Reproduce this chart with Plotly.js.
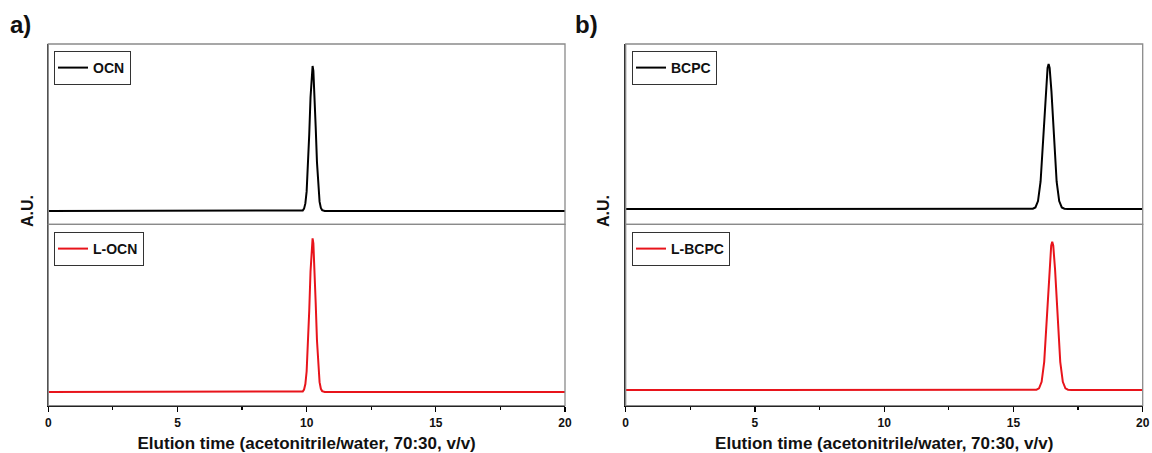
<!DOCTYPE html>
<html>
<head>
<meta charset="utf-8">
<script src="https://cdn.plot.ly/plotly-3.0.1.min.js"></script>
<style>html,body{margin:0;padding:0;background:#fff;}#chart{width:1152px;height:453px;}</style>
</head>
<body>
<div id="chart"></div>
<script>
// ---- Data ----
const ocnTime   = [0, 9.75, 9.85, 9.9, 9.95, 10.0, 10.05, 10.1, 10.15, 10.2, 10.23, 10.26, 10.3, 10.35, 10.4, 10.45, 10.5, 10.55, 10.6, 10.7, 20];
const ocnSignal = [0, 0, 0.4, 1.6, 5.2, 13.5, 29.4, 52.8, 78.5, 96.7, 100, 96.7, 83.1, 58.0, 33.5, 16.0, 6.4, 2.1, 0.6, 0, 0];

const locnTime   = [0, 9.75, 9.85, 9.9, 9.95, 10.0, 10.05, 10.1, 10.15, 10.2, 10.23, 10.26, 10.3, 10.35, 10.4, 10.45, 10.5, 10.55, 10.6, 10.7, 20];
const locnSignal = [0, 0, 0.4, 1.6, 5.2, 13.5, 29.4, 52.8, 78.5, 96.7, 100, 96.7, 83.1, 58.0, 33.5, 16.0, 6.4, 2.1, 0.6, 0, 0];

const bcpcTime   = [0, 15.6, 15.75, 15.85, 15.95, 16.05, 16.15, 16.25, 16.32, 16.36, 16.4, 16.47, 16.57, 16.67, 16.77, 16.87, 16.97, 17.1, 20];
const bcpcSignal = [0, 0, 0.2, 1.1, 5.5, 19.0, 46.6, 81.1, 97.3, 100, 97.3, 81.1, 46.6, 19.0, 5.5, 1.1, 0.2, 0, 0];

const lbcpcTime   = [0, 15.74, 15.89, 15.99, 16.09, 16.19, 16.29, 16.39, 16.46, 16.5, 16.54, 16.61, 16.71, 16.81, 16.91, 17.01, 17.11, 17.24, 20];
const lbcpcSignal = [0, 0, 0.2, 1.1, 5.5, 19.0, 46.6, 81.1, 97.3, 100, 97.3, 81.1, 46.6, 19.0, 5.5, 1.1, 0.2, 0, 0];

const seriesNames = ["OCN", "L-OCN", "BCPC", "L-BCPC"];
const xTitle = "Elution time (acetonitrile/water, 70:30, v/v)";
const yTitle = "A.U.";
const panelLabels = ["a)", "b)"];

// ---- Styling ----
const FONT = "Arial, 'Liberation Sans', sans-serif";
const BLACK = "#000000";
const RED = "#e8141b";

function trace(x, y, name, color, xa, ya, lg) {
  return {x: x, y: y, name: name, type: "scatter", mode: "lines",
          line: {color: color, width: 2}, xaxis: xa, yaxis: ya, legend: lg, showlegend: true,
          hoverinfo: "x+y"};
}

const data = [
  trace(ocnTime, ocnSignal, seriesNames[0], BLACK, "x3", "y3", "legend"),
  trace(locnTime, locnSignal, seriesNames[1], RED, "x", "y", "legend2"),
  trace(bcpcTime, bcpcSignal, seriesNames[2], BLACK, "x4", "y4", "legend3"),
  trace(lbcpcTime, lbcpcSignal, seriesNames[3], RED, "x2", "y2", "legend4")
];

const W = 1152, H = 453;
const domA = [48.3 / W, 565 / W];
const domB = [625.7 / W, 1142.7 / W];
const domBottom = [(H - 405.7) / H, (H - 224.3) / H];
const domTop = [(H - 224.3) / H, (H - 44) / H];

function bottomX(dom, anchor) {
  return {
    domain: dom, anchor: anchor, range: [0, 20], autorange: false,
    tickmode: "linear", tick0: 0, dtick: 5,
    ticks: "outside", ticklen: 5, tickwidth: 1.3, tickcolor: BLACK,
    minor: {tickmode: "linear", tick0: 0, dtick: 2.5, ticks: "outside", ticklen: 3, tickwidth: 1.2, tickcolor: BLACK, showgrid: false},
    showline: true, linecolor: BLACK, linewidth: 1.5,
    showgrid: false, zeroline: false,
    tickfont: {family: FONT, size: 12, color: "#111", weight: "bold"},
    title: {text: xTitle, standoff: 10, font: {family: FONT, size: 17, color: "#111", weight: "bold"}},
    fixedrange: true
  };
}
function topX(dom, anchor, match) {
  return {
    domain: dom, anchor: anchor, matches: match, range: [0, 20],
    showticklabels: false, ticks: "", showline: false, showgrid: false, zeroline: false, fixedrange: true
  };
}
function yAx(dom, anchor, range) {
  return {
    domain: dom, anchor: anchor, range: range, autorange: false,
    showticklabels: false, ticks: "", showgrid: false, zeroline: false,
    showline: true, linecolor: "#333", linewidth: 1.3, fixedrange: true
  };
}
function legendAt(xpx, ypx) {
  return {
    x: xpx / W, y: (H - ypx) / H, xanchor: "left", yanchor: "top",
    xref: "paper", yref: "paper",
    bgcolor: "#ffffff", bordercolor: "#333", borderwidth: 1,
    font: {family: FONT, size: 14, color: "#111", weight: "bold"},
    itemwidth: 30, tracegroupgap: 0, indentation: -2
  };
}

function frame(xr, yr) {
  return {type: "rect", xref: xr + " domain", yref: yr + " domain", x0: 0, x1: 1, y0: 0, y1: 1,
          line: {color: "#8a8a8a", width: 1.3}, fillcolor: "rgba(0,0,0,0)", layer: "above"};
}

const auFont = {family: FONT, size: 16, color: "#111", weight: "bold"};
const labelFont = {family: FONT, size: 24, color: "#111", weight: "bold"};

const layout = {
  width: W, height: H,
  margin: {l: 0, r: 0, t: 0, b: 0},
  paper_bgcolor: "#ffffff", plot_bgcolor: "#ffffff",
  font: {family: FONT, color: "#111"},
  xaxis: bottomX(domA, "y"),
  xaxis2: bottomX(domB, "y2"),
  xaxis3: topX(domA, "y3", "x"),
  xaxis4: topX(domB, "y4", "x2"),
  yaxis: yAx(domBottom, "x", [-8.9, 109.1]),
  yaxis2: yAx(domBottom, "x2", [-10.6, 111.7]),
  yaxis3: yAx(domTop, "x3", [-9.2, 115.2]),
  yaxis4: yAx(domTop, "x4", [-10.55, 113.8]),
  legend: legendAt(54, 51),
  legend2: legendAt(54, 232),
  legend3: legendAt(632, 51),
  legend4: legendAt(632, 232),
  shapes: [frame("x3", "y3"), frame("x", "y"), frame("x4", "y4"), frame("x2", "y2")],
  annotations: [
    {text: yTitle, xref: "paper", yref: "paper", x: 27 / W, y: (H - 211) / H, textangle: -90,
     showarrow: false, xanchor: "center", yanchor: "middle", font: auFont},
    {text: yTitle, xref: "paper", yref: "paper", x: 603 / W, y: (H - 211) / H, textangle: -90,
     showarrow: false, xanchor: "center", yanchor: "middle", font: auFont},
    {text: panelLabels[0], xref: "paper", yref: "paper", x: 8 / W, y: (H - 24) / H,
     showarrow: false, xanchor: "left", yanchor: "middle", font: labelFont},
    {text: panelLabels[1], xref: "paper", yref: "paper", x: 573 / W, y: (H - 24) / H,
     showarrow: false, xanchor: "left", yanchor: "middle", font: labelFont}
  ]
};

Plotly.newPlot("chart", data, layout, {displayModeBar: false, staticPlot: true});
</script>
</body>
</html>
